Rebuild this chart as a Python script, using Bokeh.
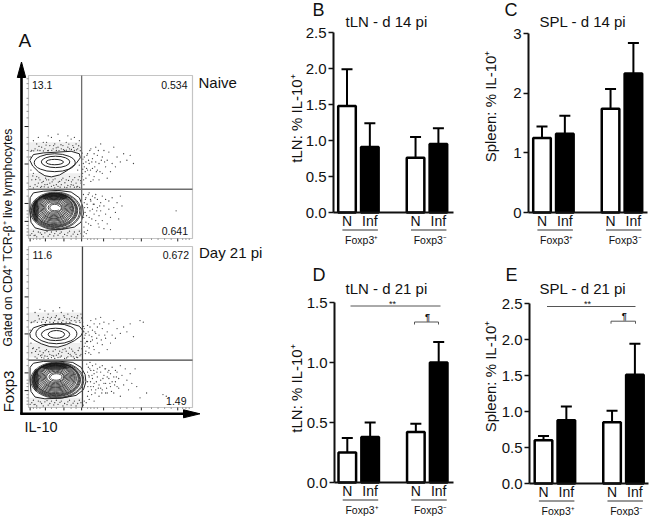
from math import pi
from bokeh.plotting import figure
from bokeh.layouts import row, column
from bokeh.models import (Label, Arrow, FixedTicker, Range1d, PolyAnnotation,
                          NumeralTickFormatter)
from bokeh.embed import file_html
from bokeh.resources import INLINE

FONT = "Liberation Sans"

# ---------------- bar chart data ----------------
groups = ["N", "Inf", "N", "Inf"]
group_pos = [1, 2, 4, 5]
group_names = ["Foxp3\u207a", "Foxp3\u207b"]
bar_fill = ["white", "black", "white", "black"]

tln14_mean = [1.48, 0.91, 0.76, 0.95]
tln14_err = [1.99, 1.24, 1.05, 1.17]
spl14_mean = [1.25, 1.32, 1.74, 2.33]
spl14_err = [1.44, 1.62, 2.07, 2.84]
tln21_mean = [0.25, 0.38, 0.42, 1.00]
tln21_err = [0.37, 0.50, 0.49, 1.17]
spl21_mean = [0.60, 0.88, 0.85, 1.51]
spl21_err = [0.66, 1.07, 1.01, 1.94]

tln14_ticks = [0, 0.5, 1.0, 1.5, 2.0, 2.5]
spl14_ticks = [0, 1, 2, 3]
tln21_ticks = [0, 0.5, 1.0, 1.5]
spl21_ticks = [0, 0.5, 1.0, 1.5, 2.0, 2.5]

# ---------------- flow cytometry data (0-100 plot units) ----------------
naive_gate = (32.4, 30.2)
d21_gate = (32.9, 29.4)
naive_labels = ["13.1", "0.534", "0.641"]
d21_labels = ["11.6", "0.672", "1.49"]

naive_upper_outer_x = [0.8, 3, 9, 18, 26, 31, 31.6, 29, 24, 19, 14, 10, 6, 2.5, 0.8]
naive_upper_outer_y = [48, 51.5, 52.5, 53, 53.5, 52, 49.5, 46, 42, 39, 37.8, 38.5, 41, 44.5, 48]
naive_upper_cx = [16, 16.5, 16]
naive_upper_cy = [46.5, 47, 46.9]
naive_upper_w = [25, 17.4, 10.6]
naive_upper_h = [11, 7, 3.3]

naive_lower_outer_x = [1, 3, 9, 18, 26, 31, 33, 33.5, 32, 28, 20, 10, 4, 1.5, 0.8, 1]
naive_lower_outer_y = [25, 28, 29, 29.5, 28.5, 25, 20, 15, 10, 7, 5.5, 5, 6.5, 10, 17, 25]
naive_lower_cx = [16.5, 16.5, 16, 16, 16, 16, 15.5, 15.5, 15.5, 15.5, 15.5, 15.5, 15.5, 15.5, 15.5, 15.5, 15.5, 16, 16]
naive_lower_cy = [17, 17, 17.2, 17.4, 17.6, 17.8, 18, 18.2, 18.4, 18.6, 18.8, 19, 19, 19, 19, 19, 19, 19, 19]
naive_lower_w = [31, 29.5, 28, 27, 26, 25, 24, 23, 22, 20.5, 19, 17.5, 16, 14.5, 13, 11.5, 10, 8, 6]
naive_lower_h = [23, 22, 21, 20.5, 20, 19.5, 19, 18, 17, 16, 15, 14, 13, 11.5, 10, 8.5, 7, 5.5, 4]

d21_upper_outer_x = [0.8, 3, 9, 18, 26, 31, 33.4, 32, 28, 23, 18, 13, 8, 4, 1.2, 0.8]
d21_upper_outer_y = [46, 49.5, 51.5, 52, 52, 50.5, 47.5, 44.5, 41.5, 39, 37.5, 37.8, 39.5, 41.5, 43.5, 46]
d21_upper_cx = [17, 16.5, 17]
d21_upper_cy = [45.8, 45.4, 45.4]
d21_upper_w = [25, 17.3, 10]
d21_upper_h = [12.4, 7.7, 4.8]

d21_lower_outer_x = [1, 3, 9, 18, 27, 32, 34.5, 35, 33.5, 29, 20, 10, 4, 1.5, 0.9, 1]
d21_lower_outer_y = [25, 27.5, 28.6, 28.8, 28, 25, 20.5, 16, 11, 7.5, 5.8, 5.4, 6.5, 10, 17, 25]
d21_lower_cx = [17.5, 17.5, 17, 17, 17, 17, 16.5, 16.5, 16.5, 16.5, 16.5, 16.5, 16.5, 16.5, 16.5, 16.5, 16.5, 17, 17]
d21_lower_cy = [17, 17, 17.2, 17.4, 17.6, 17.8, 18, 18.2, 18.4, 18.6, 18.8, 19, 19, 19, 19, 19, 19, 19, 19]
d21_lower_w = [32.5, 31, 29.5, 28.5, 27.5, 26.5, 25.5, 24, 23, 21.5, 20, 18.5, 17, 15.5, 14, 12.5, 11, 9, 7]
d21_lower_h = [22.5, 21.5, 20.7, 20.2, 19.7, 19.2, 18.7, 17.8, 16.8, 15.8, 14.8, 13.8, 12.8, 11.5, 10, 8.5, 7, 5.5, 4]

# soft grey zones where the dots are too fine to resolve: between the blobs, above, below
haze_left = [0, 0, 0]
haze_right = [32.4, 32.4, 32.4]
haze_bottom = [31, 53, 0]
haze_top = [40, 59, 6]

naive_dots = [
 (2,54),(4,55),(5,58),(7,54),(8,56),(10,55),(11,59),(12,54),(13,57),(14,62),(15,55),(16,58),(17,54),(18,56),(19,60),(20,55),
 (21,57),(22,54),(23,59),(24,56),(25,55),(26,61),(27,57),(28,54),(29,58),(30,55),(31,60),(32,56),(3,60),(6,62),(9,59),(12,63),
 (18,64),(24,63),(28,62),(1,50),(1.5,42),(3,40),(5,38),(7,36),(9,35),(11,36),(13,34),(15,36),(17,33),(19,35),(21,37),(23,36),
 (25,38),(27,36),(29,34),(31,38),(30,42),(31,45),(2,36),(4,33),(6,34),(8,32),(10,33),(12,31.5),(14,32),(16,31),(18,32),(20,33),
 (22,31.5),(24,32.5),(26,33),(28,31.5),(30,32),(32,34),(1,32),(3,31),(33,40),(34,44),(34,50),(35,37),(35,47),(36,52),(36,42),(37,39),
 (37,46),(38,55),(38,35),(39,49),(39,43),(40,52),(40,38),(41,47),(41,56),(42,42),(42,51),(43,36),(43,46),(44,58),(45,40),(45,50),
 (46,54),(47,44),(48,37),(48,48),(49,53),(50,41),(51,46),(52,56),(53,44),(54,50),(56,47),(58,52),(60,48),(62,51),(64,46),
 (33.5,27),(34,22),(34.5,16),(35,10),(35,25),(36,19),(36,5),(37,28),(37,13),(38,23),(38,8),(39,18),(39,26),(40,15),(40,21),(41,11),
 (41,27),(42,19),(42,24),(43,14),(43,7),(44,22),(44,17),(45,26),(45,11),(46,20),(47,15),(47,24),(48,9),(49,18),(49,23),(50,13),
 (51,25),(52,19),(53,16),(54,22),(55,12),(56,26),(57,20),(90,17),(46,6),(50,5.5),
 (2,3),(4,2),(6,4),(8,2.5),(10,3.5),(12,1.5),(14,4),(16,3),(18,2),(20,4),(22,2.5),(24,3.5),(26,1.5),(28,4),(30,2.5),(32,3),(34,4),
 (1,2),(3,4.5),(5,1),(9,1),(13,2.5),(17,4.5),(21,1),(25,4.5),(29,1),(31,4.5),
 (1.5,53.5),(3.2,53.8),(5.6,54.2),(6.4,56.5),(9.1,53.7),(10.7,57.3),(11.8,53.9),(14.2,54.1),(15.3,57),(16.9,55.6),(18.6,53.9),
 (19.8,57.5),(21.3,54.5),(23.1,54.2),(24.6,57.9),(26.2,54.6),(27.5,55.9),(29.3,54.4),(30.6,56.9),(31.6,53.9),(32.8,52.4),(33.2,48.7),
 (33.4,46),(33.1,42.5),(32.6,38),(2.6,38.4),(4.4,36.2),(6.3,37.2),(8.2,34.3),(10.4,37),(12.3,36),(14.4,34.8),(16.2,36.6),(18.2,34.6),
 (20.2,36),(22.2,34.2),(24.4,35.6),(26.2,34.8),(28.2,37.4),(30.3,36),(31.8,35.5),(5.3,32),(7.4,31.4),(9.6,31.7),(11.4,33.2),(15.4,32.6),
 (19.3,31.5),(23.4,31.2),(25.5,31.7),(27.3,32.7),(29.4,31.6),(31.2,31.4),(33.6,36),(33.8,33),(34.6,41),(35.4,43),(35.6,51),(36.6,48),
 (37.4,54),(37.8,42),(38.6,47),(39.4,36),(40.4,44),(41.4,41),(42.6,54),(43.6,41),(44.4,48),(46.4,47),(33.6,13),(33.8,7),(34.2,19),
 (34.7,24),(35.4,14),(35.7,21),(36.4,27),(36.6,9),(37.5,17),(37.8,24),(38.6,12),(39.5,21),(40.5,25),(41.6,17),(42.5,9),(43.4,20),
 (3.4,1.8),(7.2,3.5),(11.3,4.3),(15.4,1.6),(19.2,3.2),(23.5,1.8),(27.2,2.7),(33.4,1.5),(35.2,3)]

d21_dots = [
 (2,53),(4,54),(6,57),(8,53),(9,56),(11,54),(12,58),(13,53),(14,56),(15,60),(16,54),(17,57),(18,53),(19,55),(20,59),(21,54),
 (22,56),(23,53),(24,58),(25,55),(26,54),(27,60),(28,56),(29,53),(30,57),(31,54),(32,58),(33,53),(4,59),(7,61),(10,60),(19,62),
 (1,48),(1.5,40),(3,37),(5,36),(7,35),(9,34),(11,36),(13,33),(15,35),(17,32.5),(19,35),(21,36),(23,35),(25,37),(27,35),(29,33),
 (31,37),(32,41),(2,34),(4,31.5),(6,33),(8,31),(10,32),(12,30.5),(14,31),(16,30.5),(18,31),(20,32),(22,30.5),(24,31.5),(26,32),
 (28,30.5),(30,31),(32,33),(34,38),(34,43),(34,49),(35,35),(35,46),(36,51),(36,41),(37,37),(37,45),(38,54),(38,33),(39,48),(39,42),
 (40,52),(40,36),(41,46),(41,55),(42,40),(42,50),(43,34),(43,45),(44,56),(45,39),(45,49),(46,53),(47,43),(48,36),(48,47),(49,52),
 (50,40),(51,45),(52,54),(53,43),(54,49),(56,46),(58,50),(60,47),(62,52),(64,44),(68,54),(70,53),
 (35.5,27),(36,22),(36,16),(36.5,10),(36.5,25),(37,19),(37,5),(37.5,28),(38,13),(38,23),(38.5,8),(39,18),(39,26),(40,15),(40,21),
 (40,4),(41,11),(41,27),(42,19),(42,24),(43,14),(43,7),(44,22),(44,17),(44,12),(45,26),(45,11),(46,20),(46,15),(47,15),(47,24),
 (47,9),(48,9),(48,19),(49,18),(49,23),(50,13),(50,21),(51,25),(51,16),(52,19),(52,9),(53,16),(53,23),(54,22),(54,13),(55,12),
 (55,18),(56,26),(56,7),(57,20),(58,14),(59,24),(60,17),(61,11),(62,21),(63,15),(65,24),(66,13),(68,6),(72,9),(82,8),(84,7),
 (2,3),(4,2),(6,4),(8,2.5),(10,3.5),(12,1.5),(14,4),(16,3),(18,2),(20,4),(22,2.5),(24,3.5),(26,1.5),(28,4),(30,2.5),(32,3),(34,4),
 (1,2),(3,4.5),(5,1),(9,1),(13,2.5),(17,4.5),(21,1),(25,4.5),(29,1),(31,4.5),
 (1.6,52.7),(3.3,53.2),(5.4,52.9),(6.6,55),(8.8,54.7),(10.3,52.8),(11.7,56),(13.2,55),(15.2,52.8),(16.3,55.9),(18.4,54.8),(20.2,52.8),
 (21.6,57),(23.4,55),(25.2,52.8),(26.4,56.5),(28.3,54),(29.6,55.6),(31.4,52.8),(32.4,55.6),(33.6,50.4),(33.8,47),(34.5,45),(34.6,40),
 (2.5,36.6),(4.3,34.8),(6.4,37.1),(8.2,32.7),(10.2,35.3),(12.3,34.7),(14.3,32.4),(16.4,36),(18.3,33.4),(20.4,34.3),(22.3,36.5),(24.3,33.6),
 (26.3,36.3),(28.2,34),(30.3,35.4),(32.6,36.5),(5.2,30.6),(7.4,32.2),(9.4,30.7),(11.4,31.8),(15.3,32),(19.3,31.3),(23.2,30.8),(25.4,33),
 (27.3,31.5),(29.4,31.2),(31.4,32.2),(34.7,33.5),(35.4,41),(35.7,38),(36.4,47),(36.8,34),(37.5,50),(37.9,41),(38.6,44),(39.6,38),(40.5,47),
 (41.6,43),(43.4,52),(44.4,42),(46.5,45),(36,7),(36.2,13),(36.8,20),(37.4,24),(37.8,16),(38.4,11),(38.7,20),(39.6,13),(39.8,23),(40.6,9),
 (41.4,16),(41.7,22),(42.6,12),(43.5,25),(44.7,9),(45.4,18),(46.6,24),(47.6,12),(48.4,22),(49.6,15),(50.6,10),(52.5,14),(53.6,19),
 (3.4,1.8),(7.2,3.5),(11.3,4.3),(15.4,1.6),(19.2,3.2),(23.5,1.8),(27.2,2.7),(33.4,1.5),(35.2,3)]

flow_x_ticks = [1, 10.3, 21.6, 32.4, 45.8, 68.8, 91]
flow_x_minor = [3, 5, 7, 14, 17, 26, 29, 36, 38, 40, 42, 52, 56, 60, 64, 75, 79, 83, 87, 94, 96, 98]
flow_y_ticks = [10.5, 21.5, 45.7, 68.7]
flow_y_minor = [2, 4, 6, 8, 13, 15, 17, 26, 30, 34, 38, 50, 54, 58, 62, 74, 78, 82, 86, 92, 95, 98]


def put_text(fig, origin, px, py, text, size, align="left", angle=0, color="#111111", style="normal"):
    L, B = origin
    fig.add_layout(Label(x=px - L, y=B - py, x_units="screen", y_units="screen", text=text,
                         text_font=FONT, text_font_size=f"{size}px", text_align=align,
                         text_baseline="middle", angle=angle, text_color=color,
                         text_font_style=style))


def put_line(fig, origin, x0, y0, x1, y1, width=1.2, color="#333333"):
    L, B = origin
    fig.add_layout(Arrow(end=None, x_start=x0 - L, y_start=B - y0, x_end=x1 - L, y_end=B - y1,
                         start_units="screen", end_units="screen",
                         line_color=color, line_width=width))


def bar_panel(x0, y0, w, h, L, T, R, Bt, y_end, ticks, means, errs, fmt, title, title_px, title_py,
              letter, letter_px, letter_py, ylabel, ylab_px, ylab_py, first=13.5):
    unit = 22.85
    x_at_L = 1 - first / unit
    x_at_R = x_at_L + (R - L) / unit
    yscale = y_end / (Bt - T)
    p = figure(width=w, height=h,
               x_range=Range1d(x_at_L - (L - x0) / unit, x_at_R + (x0 + w - R) / unit),
               y_range=Range1d(-(y0 + h - Bt) * yscale, (Bt - y0) * yscale),
               output_backend="svg", toolbar_location=None,
               min_border=0, min_border_left=0, min_border_right=0, min_border_top=0, min_border_bottom=0)
    p.background_fill_color = None
    p.border_fill_color = None
    p.outline_line_color = None
    p.grid.visible = False

    ya = p.yaxis[0]
    ya.fixed_location = x_at_L
    ya.bounds = (0, y_end)
    ya.ticker = FixedTicker(ticks=ticks)
    ya.formatter = NumeralTickFormatter(format=fmt)
    ya.minor_tick_line_color = None
    ya.major_tick_in = 0
    ya.major_tick_out = 5
    ya.major_tick_line_width = 1.6
    ya.major_tick_line_color = "#111111"
    ya.axis_line_width = 2
    ya.axis_line_color = "#111111"
    ya.major_label_text_font = FONT
    ya.major_label_text_font_size = "15px"
    ya.major_label_text_color = "#111111"
    ya.major_label_standoff = 2

    xa = p.xaxis[0]
    xa.fixed_location = 0
    xa.bounds = (x_at_L, x_at_R)
    xa.ticker = FixedTicker(ticks=group_pos)
    xa.major_label_overrides = {k: v for k, v in zip(group_pos, groups)}
    xa.minor_tick_line_color = None
    xa.major_tick_line_color = None
    xa.major_tick_in = 0
    xa.major_tick_out = 0
    xa.axis_line_width = 2
    xa.axis_line_color = "#111111"
    xa.major_label_text_font = FONT
    xa.major_label_text_font_size = "14px"
    xa.major_label_text_color = "#111111"
    xa.major_label_standoff = 0

    p.vbar(x=group_pos, top=means, bottom=0, width=0.77, fill_color=bar_fill,
           line_color="black", line_width=2.5)
    p.segment(x0=group_pos, y0=means, x1=group_pos, y1=errs, line_color="black", line_width=2)
    p.scatter(x=group_pos, y=errs, marker="dash", size=11, line_color="black", line_width=2)

    origin = (x0, y0 + h)
    put_text(p, origin, title_px, title_py, title, 15)
    put_text(p, origin, letter_px, letter_py, letter, 18)
    put_text(p, origin, ylab_px, ylab_py, ylabel, 15, align="center", angle=pi / 2)
    base = L + first
    for gi, name in enumerate(group_names):
        gx = base + 11.4 + gi * 3 * unit
        put_line(p, origin, gx - 16, Bt + 17.5, gx + 19.5, Bt + 17.5)
        put_text(p, origin, gx + 3.3, Bt + 27, name, 10.5, align="center")
    return p


def bracket(p, origin, left, right, main_y, star_x, star_y, stem_x0, stem_x1, stem_y):
    put_line(p, origin, left, main_y, right, main_y, 1, "#555555")
    put_text(p, origin, star_x, star_y, "**", 9, align="center")
    put_line(p, origin, stem_x0, stem_y, stem_x1, stem_y, 1, "#555555")
    put_line(p, origin, stem_x0, stem_y, stem_x0, stem_y + 2.5, 1, "#555555")
    put_line(p, origin, stem_x1, stem_y, stem_x1, stem_y + 2.5, 1, "#555555")
    put_text(p, origin, (stem_x0 + stem_x1) / 2 + 1, stem_y - 5.5, "\u00b6", 9, align="center", style="bold")


b = bar_panel(280, 0, 190, 260, 333, 32, 453, 212, 2.5, tln14_ticks, tln14_mean, tln14_err, "0.0",
              "tLN - d 14 pi", 345, 20.5, "B", 312, 9, "tLN: % IL-10\u207a", 296, 118)
c = bar_panel(470, 0, 180, 260, 528, 33, 647, 212, 3, spl14_ticks, spl14_mean, spl14_err, "0",
              "SPL - d 14 pi", 539, 20.5, "C", 504, 9, "Spleen: % IL-10\u207a", 490, 106)
d = bar_panel(280, 260, 190, 256, 334, 302, 453, 482, 1.5, tln21_ticks, tln21_mean, tln21_err, "0.0",
              "tLN - d 21 pi", 345, 288, "D", 312, 274, "tLN: % IL-10\u207a", 296, 388, first=12.8)
e = bar_panel(470, 260, 180, 256, 529, 303, 648, 483, 2.5, spl21_ticks, spl21_mean, spl21_err, "0.0",
              "SPL - d 21 pi", 539, 288, "E", 505, 274, "Spleen: % IL-10\u207a", 490, 376, first=14)
bracket(d, (280, 516), 350, 440, 305.5, 392, 303, 414, 438, 321.5)
bracket(e, (470, 516), 546.5, 635, 306, 587, 303, 610.5, 635, 320.7)

# ---------------- panel A ----------------
L, R, T, Bt = 28, 192, 75, 407
W, H = 280, 516
a = figure(width=W, height=H, x_range=Range1d(-L / 1.64, (W - L) / 1.64),
           y_range=Range1d(-(H - Bt) / 1.61, Bt / 1.61),
           x_axis_location=None, y_axis_location=None,
           output_backend="svg", toolbar_location=None,
           min_border=0, min_border_left=0, min_border_right=0, min_border_top=0, min_border_bottom=0)
a.extra_y_ranges = {"naive": Range1d(-(H - 238) / 1.63, 238 / 1.63)}
a.background_fill_color = None
a.border_fill_color = None
a.outline_line_color = None
a.grid.visible = False


def flow(gate, dots, ux, uy, ucx, ucy, uw, uh, lx, ly, lcx, lcy, lw, lh, gate_color, **kw):
    a.quad(left=0, right=100, bottom=0, top=100, fill_color=None, line_color="#c4c4c4", line_width=1.2, **kw)
    a.quad(left=haze_left, right=haze_right, bottom=haze_bottom, top=haze_top,
           fill_color="#808080", fill_alpha=0.13, line_color=None, **kw)
    a.scatter([v[0] for v in dots], [v[1] for v in dots], marker="circle", size=1.3,
              fill_color="#222222", line_color=None, fill_alpha=0.85, **kw)
    a.patch(ux, uy, fill_color="white", line_color="#222222", line_width=1, **kw)
    a.ellipse(ucx, ucy, width=uw, height=uh, fill_color=None, line_color="#222222", line_width=1, **kw)
    a.patch(lx, ly, fill_color="white", line_color="#222222", line_width=1, **kw)
    a.ellipse(lcx, lcy, width=lw, height=lh, fill_color=None, line_color="#1a1a1a", line_width=0.8, **kw)
    a.ellipse([16, 4.5], [25.2, 17], width=[15, 3.5], height=[3.6, 14], fill_color="#111111", fill_alpha=0.6,
              line_color=None, **kw)
    a.ellipse([16.5], [18.7], width=[6], height=[2.2], fill_color="white", line_color=None, **kw)
    a.segment(x0=[gate[0], 0], y0=[0, gate[1]], x1=[gate[0], 100], y1=[100, gate[1]],
              line_color=gate_color, line_width=1.3, **kw)
    # tick marks of the plot's own scale, left and bottom
    a.segment(x0=[-2.4] * len(flow_y_ticks), y0=flow_y_ticks, x1=[0] * len(flow_y_ticks), y1=flow_y_ticks,
              line_color="#222222", **kw)
    a.segment(x0=[-1.2] * len(flow_y_minor), y0=flow_y_minor, x1=[0] * len(flow_y_minor), y1=flow_y_minor,
              line_color="#666666", line_width=0.7, **kw)
    a.segment(x0=flow_x_ticks, y0=[0] * len(flow_x_ticks), x1=flow_x_ticks, y1=[-1.8] * len(flow_x_ticks),
              line_color="#222222", **kw)
    a.segment(x0=flow_x_minor, y0=[0] * len(flow_x_minor), x1=flow_x_minor, y1=[-0.9] * len(flow_x_minor),
              line_color="#666666", line_width=0.7, **kw)


flow(naive_gate, naive_dots, naive_upper_outer_x, naive_upper_outer_y, naive_upper_cx, naive_upper_cy,
     naive_upper_w, naive_upper_h, naive_lower_outer_x, naive_lower_outer_y, naive_lower_cx, naive_lower_cy,
     naive_lower_w, naive_lower_h, "#6e6e6e", y_range_name="naive")
flow(d21_gate, d21_dots, d21_upper_outer_x, d21_upper_outer_y, d21_upper_cx, d21_upper_cy,
     d21_upper_w, d21_upper_h, d21_lower_outer_x, d21_lower_outer_y, d21_lower_cx, d21_lower_cy,
     d21_lower_w, d21_lower_h, "#444444")

fr = (0, H)
put_text(a, fr, 18, 40, "A", 19)
put_text(a, fr, 31.5, 84.5, naive_labels[0], 10.5)
put_text(a, fr, 187, 84.5, naive_labels[1], 10.5, align="right")
put_text(a, fr, 187.5, 230, naive_labels[2], 10.5, align="right")
put_text(a, fr, 198, 82, "Naive", 15)
put_text(a, fr, 32, 254.5, d21_labels[0], 10.5)
put_text(a, fr, 188.5, 254.5, d21_labels[1], 10.5, align="right")
put_text(a, fr, 186, 400, d21_labels[2], 10.5, align="right")
put_text(a, fr, 198.5, 252, "Day 21 pi", 15)
put_text(a, fr, 24, 426, "IL-10", 14.5)
put_text(a, fr, 7.5, 391, "Foxp3", 15, align="center", angle=pi / 2)
put_text(a, fr, 7.5, 237, "Gated on CD4\u207a TCR-\u03b2\u207a live lymphocytes", 12.2, align="center", angle=pi / 2)
put_line(a, fr, 21, 413.5, 21, 76, 2.6, "black")
put_line(a, fr, 19.7, 413.3, 184, 413.3, 2.6, "black")
a.add_layout(PolyAnnotation(xs=[21, 16.8, 25.2], ys=[H - 61.5, H - 77, H - 77],
                            xs_units="screen", ys_units="screen", fill_color="black", fill_alpha=1,
                            line_color="black", line_alpha=1))
a.add_layout(PolyAnnotation(xs=[199.5, 183, 183], ys=[H - 413.3, H - 409.3, H - 417.3],
                            xs_units="screen", ys_units="screen", fill_color="black", fill_alpha=1,
                            line_color="black", line_alpha=1))

root = row(a, column(row(b, c, spacing=0), row(d, e, spacing=0), spacing=0), spacing=0,
           styles={"position": "absolute", "left": "0px", "top": "0px"})
open("out.html", "w").write(file_html(root, INLINE))
